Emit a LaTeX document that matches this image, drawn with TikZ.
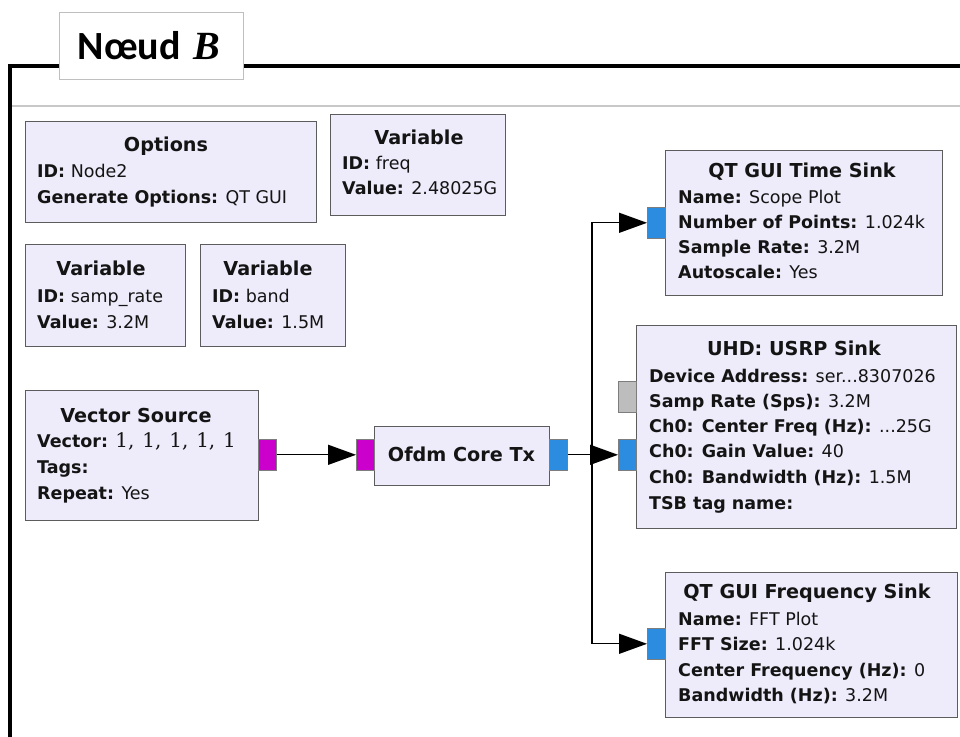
\documentclass[tikz,border=0pt]{standalone}
\usepackage{fontspec}
\setmainfont{DejaVu Sans}
\newfontfamily\titlefont{Carlito}
\newfontfamily\serifB{Liberation Serif}
\newfontfamily\vecfont{DejaVu Serif}
\usetikzlibrary{arrows.meta}
\definecolor{blockfill}{HTML}{EEEBFA}
\definecolor{blockline}{HTML}{5C5C5C}
\definecolor{portmag}{HTML}{CC00CC}
\definecolor{portblue}{HTML}{2B8CE0}
\definecolor{portgray}{HTML}{BDBDBD}
\definecolor{txt}{HTML}{141414}
\definecolor{canvasline}{HTML}{C8C8C8}
\tikzset{
  blockbox/.style={draw=blockline, fill=blockfill, line width=1.2pt, inner sep=0pt, anchor=north west},
  port/.style={draw=blockline!80, line width=0.6pt, inner sep=0pt, minimum width=18pt, minimum height=31pt, anchor=north west},
  ttl/.style={font=\bfseries\fontsize{19.2}{22}\selectfont, text=txt, anchor=base, inner sep=0pt},
  ln/.style={font=\fontsize{17.5}{20}\selectfont, text=txt, anchor=base west, inner sep=0pt},
  flow/.style={line width=1.3pt, draw=black, -{Triangle[length=28pt,width=20pt]}},
  frame/.style={line width=3.5pt, line join=miter},
}
\newcommand\vgap{\hspace{1.5pt}}
\begin{document}
\begin{tikzpicture}[x=1pt,y=-1pt]
\useasboundingbox (0,0) rectangle (960,736);
% frame
\coordinate (fb) at (10,740);
\coordinate (fc) at (10,66);
\coordinate (fr) at (962,66);
\draw[frame] (fb) -- (fc) -- (fr);
\coordinate (cl) at (12,106);
\coordinate (cr) at (962,106);
\draw[canvasline, line width=1.5pt] (cl) -- (cr);
\node[draw=black!25, fill=white, line width=0.8pt, minimum width=184pt, minimum height=67pt, anchor=north west, inner sep=0pt] (title) at (59,12) {};
\node[inner sep=0pt, font=\fontsize{40}{44}\selectfont] (titletext) at (149,46) {{\titlefont\bfseries Nœud} {\serifB\bfseries\itshape B}};

% Options
\node[blockbox, minimum width=291pt, minimum height=101pt] (opt) at (25,121) {};
\node[ttl] (optT) at (166,151) {Options};
\node[ln] (opt1) at (37,177) {\textbf{ID:} Node2};
\node[ln] (opt2) at (37,203) {\textbf{Generate Options:} QT GUI};
% Variable freq
\node[blockbox, minimum width=175pt, minimum height=101pt] (vf) at (330,114) {};
\node[ttl] (vfT) at (419,144) {Variable};
\node[ln] (vf1) at (342,169) {\textbf{ID:} freq};
\node[ln] (vf2) at (342,194) {\textbf{Value:} 2.48025G};
% Variable samp_rate
\node[blockbox, minimum width=160pt, minimum height=102pt] (vs) at (25,244) {};
\node[ttl] (vsT) at (101,275) {Variable};
\node[ln] (vs1) at (37,302) {\textbf{ID:} samp\_rate};
\node[ln] (vs2) at (37,328) {\textbf{Value:} 3.2M};
% Variable band
\node[blockbox, minimum width=145pt, minimum height=102pt] (vb) at (200,244) {};
\node[ttl] (vbT) at (268,275) {Variable};
\node[ln] (vb1) at (212,302) {\textbf{ID:} band};
\node[ln] (vb2) at (212,328) {\textbf{Value:} 1.5M};
% Vector source
\node[blockbox, minimum width=233pt, minimum height=130pt] (vec) at (25,390) {};
\node[ttl] (vecT) at (136,422) {Vector Source};
\node[ln] (vec1) at (37,447) {\textbf{Vector:} {\vecfont\fontsize{20}{20}\selectfont 1, \vgap1, \vgap1, \vgap1, \vgap1}};
\node[ln] (vec2) at (37,473) {\textbf{Tags:}};
\node[ln] (vec3) at (37,499) {\textbf{Repeat:} Yes};
% Ofdm
\node[blockbox, minimum width=175pt, minimum height=59pt] (ofdm) at (374,426) {};
\node[ttl] (ofdmT) at (461.5,461) {Ofdm Core Tx};
% Time sink
\node[blockbox, minimum width=277pt, minimum height=145pt] (ts) at (665,150) {};
\node[ttl] (tsT) at (802,177) {QT GUI Time Sink};
\node[ln] (ts1) at (678,203) {\textbf{Name:} Scope Plot};
\node[ln] (ts2) at (678,228) {\textbf{Number of Points:} 1.024k};
\node[ln] (ts3) at (678,253) {\textbf{Sample Rate:} 3.2M};
\node[ln] (ts4) at (678,278) {\textbf{Autoscale:} Yes};
% USRP sink
\node[blockbox, minimum width=320pt, minimum height=203pt] (us) at (636,325) {};
\node[ttl] (usT) at (794,355) {UHD: USRP Sink};
\node[ln] (us1) at (649,382) {\textbf{Device Address:} ser...8307026};
\node[ln] (us2) at (649,407) {\textbf{Samp Rate (Sps):} 3.2M};
\node[ln] (us3) at (649,432) {\textbf{Ch0: Center Freq (Hz):} ...25G};
\node[ln] (us4) at (649,457) {\textbf{Ch0: Gain Value:} 40};
\node[ln] (us5) at (649,483) {\textbf{Ch0: Bandwidth (Hz):} 1.5M};
\node[ln] (us6) at (649,509) {\textbf{TSB tag name:}};
% Freq sink
\node[blockbox, minimum width=292pt, minimum height=145pt] (fs) at (665,572) {};
\node[ttl] (fsT) at (807,598) {QT GUI Frequency Sink};
\node[ln] (fs1) at (678,625) {\textbf{Name:} FFT Plot};
\node[ln] (fs2) at (678,650) {\textbf{FFT Size:} 1.024k};
\node[ln] (fs3) at (678,676) {\textbf{Center Frequency (Hz):} 0};
\node[ln] (fs4) at (678,701) {\textbf{Bandwidth (Hz):} 3.2M};
% ports
\node[port, fill=portmag] (vout) at (258,439) {};
\node[port, fill=portmag] (oin) at (356,439) {};
\node[port, fill=portblue] (oout) at (549,439) {};
\node[port, fill=portblue] (tin) at (647,207) {};
\node[port, fill=portgray] (ugray) at (618,381) {};
\node[port, fill=portblue] (ublue) at (618,439) {};
\node[port, fill=portblue] (fin) at (647,628) {};
% connectors
\coordinate (j) at (592,454.5);
\draw[flow] (vout.east) -- (oin.west);
\draw[flow] (oout.east) -- (ublue.west);
\draw[flow] (j) |- (tin.west);
\draw[flow] (j) |- (fin.west);
\end{tikzpicture}
\end{document}
